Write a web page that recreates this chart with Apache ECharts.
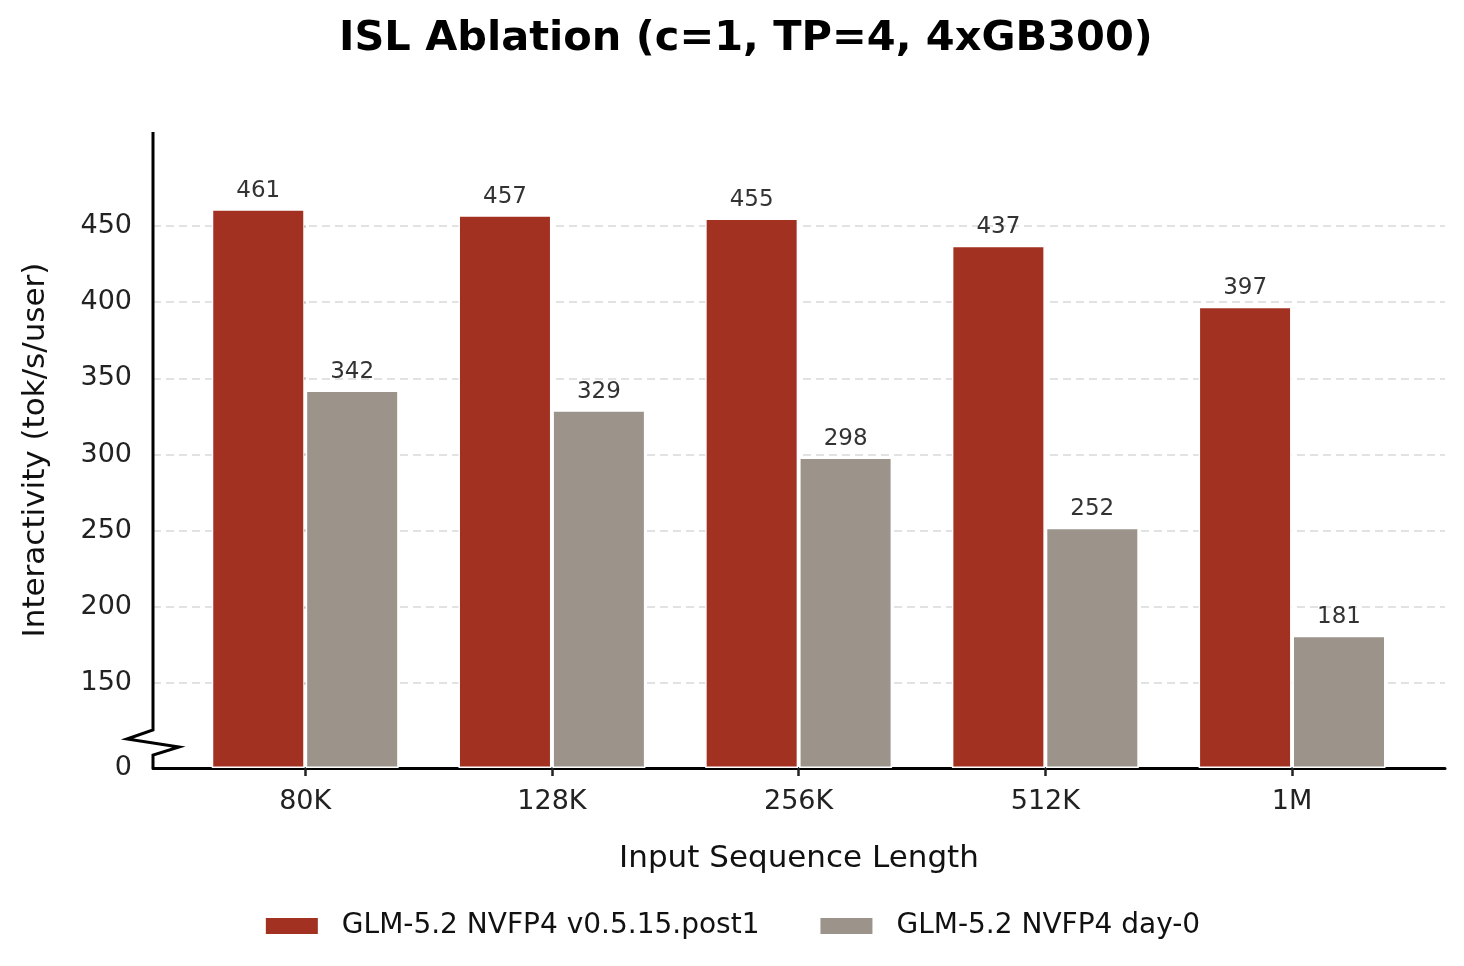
<!DOCTYPE html>
<html><head><meta charset="utf-8">
<script src="https://cdn.jsdelivr.net/npm/echarts@6/dist/echarts.min.js"></script>
<style>html,body{margin:0;padding:0;background:#fff}#c{width:1464px;height:966px}</style>
</head><body><div id="c"></div>
<script>
const categories = ['80K', '128K', '256K', '512K', '1M'];
const seriesNames = ['GLM-5.2 NVFP4 v0.5.15.post1', 'GLM-5.2 NVFP4 day-0'];
const postValues = [461, 457, 455, 437, 397];
const day0Values = [342, 329, 298, 252, 181];
const yTickValues = [150, 200, 250, 300, 350, 400, 450];
const yLabelValues = [0, 150, 200, 250, 300, 350, 400, 450];

const FONT = 'DejaVu Sans';
const W = 1464, H = 966;
const G = { left: 153, right: 19, top: 132, bottom: 198 };
const axisX = G.left, axisBottom = H - G.bottom;
const RED = '#A33122', GRAY = '#9C948A';

const chart = echarts.init(document.getElementById('c'), null, { renderer: 'canvas' });

function barSeries(name, vals, color) {
  return {
    type: 'bar', name: name,
    data: vals.map((v, i) => [i, v]),
    barWidth: 93, barGap: '1%',
    itemStyle: { color: color, borderColor: '#fff', borderWidth: 1.5 },
    label: {
      show: true, position: 'top', distance: 7,
      fontFamily: FONT, fontSize: 23, color: '#333',
      formatter: p => String(p.value[1])
    }
  };
}

chart.setOption({
  animation: false,
  backgroundColor: '#fff',
  title: {
    text: 'ISL Ablation (c=1, TP=4, 4xGB300)', left: 334, top: 13,
    textStyle: { fontFamily: FONT, fontSize: 41.5, fontWeight: 'bold', color: '#000' }
  },
  legend: {
    left: 'center', top: 907, itemWidth: 54, itemHeight: 18, itemGap: 59,
    icon: 'rect',
    textStyle: { fontFamily: FONT, fontSize: 28, color: '#111', padding: [0, 0, 0, 18] },
    data: seriesNames
  },
  grid: { left: G.left, right: G.right, top: G.top, bottom: G.bottom, containLabel: false, outerBoundsMode: 'none' },
  xAxis: {
    type: 'value', min: -0.617, max: 4.62,
    name: 'Input Sequence Length', nameLocation: 'middle', nameGap: 75,
    nameTextStyle: { fontFamily: FONT, fontSize: 31, color: '#111' },
    axisLine: { show: true, lineStyle: { color: '#000', width: 3 } },
    axisTick: { show: true, length: 8, lineStyle: { color: '#222', width: 2.5 }, customValues: [0, 1, 2, 3, 4] },
    axisLabel: {
      customValues: [0, 1, 2, 3, 4], margin: 20,
      fontFamily: FONT, fontSize: 27, color: '#222',
      formatter: v => categories[Math.round(v)]
    },
    splitLine: { show: false }
  },
  yAxis: {
    type: 'value', min: 0, max: 511.7,
    breaks: [{ start: 8, end: 120, gap: '4.25%' }],
    breakArea: { show: false },
    name: 'Interactivity (tok/s/user)', nameLocation: 'middle', nameGap: 102,
    nameTextStyle: { fontFamily: FONT, fontSize: 31, color: '#111' },
    axisLine: { show: false },
    axisTick: { show: true, length: 8, lineStyle: { color: '#222', width: 2.5 }, customValues: yTickValues },
    axisLabel: {
      customValues: yLabelValues, margin: 21,
      fontFamily: FONT, fontSize: 27, color: '#222'
    },
    splitLine: { show: true, lineStyle: { color: '#d6d9dc', width: 1.5, type: [8, 5] } }
  },
  series: [
    barSeries(seriesNames[0], postValues, RED),
    barSeries(seriesNames[1], day0Values, GRAY)
  ],
  graphic: [{
    type: 'polyline', z: 100,
    shape: { points: [[axisX, G.top], [axisX, axisBottom - 38], [axisX - 26, axisBottom - 29], [axisX + 26, axisBottom - 21], [axisX, axisBottom - 13], [axisX, axisBottom]] },
    style: { stroke: '#000', lineWidth: 3, fill: null }
  }]
});
</script></body></html>
